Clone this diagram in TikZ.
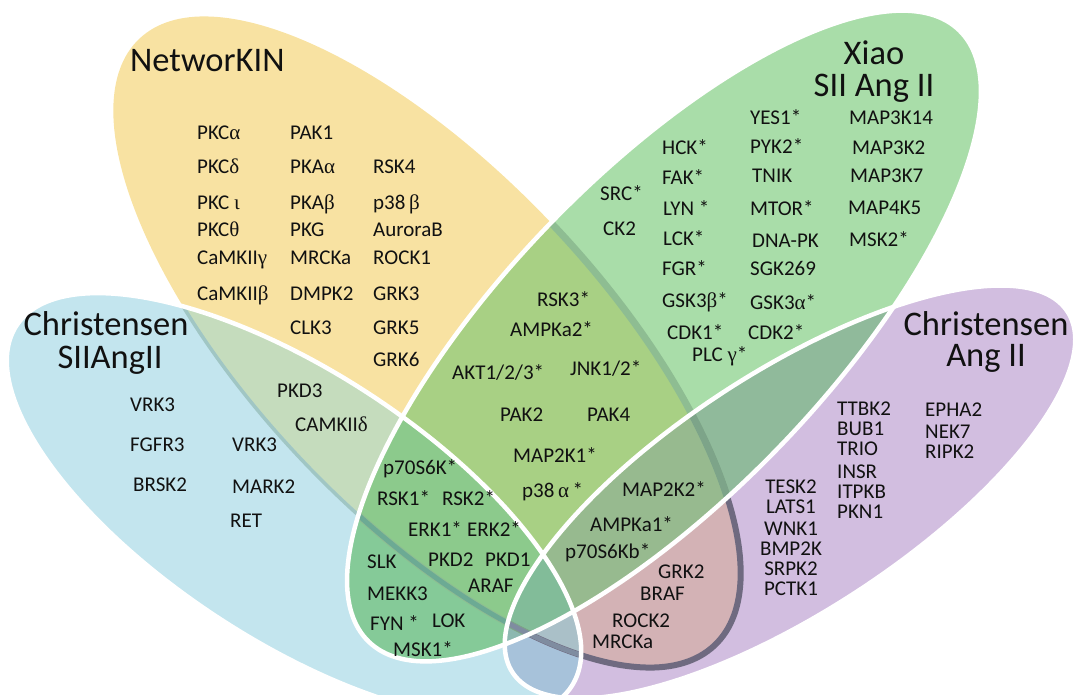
\documentclass[tikz,border=0pt]{standalone}
\usepackage{fontspec}
\setmainfont{Carlito}
\newfontfamily\grk{Liberation Serif}
\definecolor{cY}{HTML}{F8E2A2}
\definecolor{cG}{HTML}{A9DDA9}
\definecolor{cB}{HTML}{C3E5EE}
\definecolor{cP}{HTML}{D2BEE0}
\definecolor{cYG}{HTML}{A8D084}
\definecolor{cYB}{HTML}{C5DCBD}
\definecolor{cYP}{HTML}{D3B2B5}
\definecolor{cGB}{HTML}{85CA98}
\definecolor{cGP}{HTML}{90BA9B}
\definecolor{cBP}{HTML}{A7C2DA}
\definecolor{cYGB}{HTML}{8CCA8C}
\definecolor{cYGP}{HTML}{97BA8F}
\definecolor{cYBP}{HTML}{AAC0C8}
\definecolor{cGBP}{HTML}{8CB8B0}
\definecolor{cYGBP}{HTML}{82BC99}
\definecolor{eB}{HTML}{A0C6C4}
\definecolor{eG}{HTML}{8EBD92}
\definecolor{eGB}{HTML}{6CAA94}
\definecolor{eP}{HTML}{6F6A80}
\definecolor{eGP}{HTML}{7DA489}
\definecolor{eBP}{HTML}{7F8CA0}
\definecolor{txt}{HTML}{111111}
\def\Yp{(427,-342) ellipse [x radius=418, y radius=172]}
\def\Gp{(664,-336) ellipse [x radius=425, y radius=160]}
\def\Bp{(294,-506) ellipse [x radius=331, y radius=135]}
\def\Pp{(790,-492) ellipse [x radius=331, y radius=120]}
\begin{document}
\begin{tikzpicture}[x=1pt,y=1pt,
  shY/.style={rotate around={-46.5:(427,-342)}},
  shG/.style={rotate around={46:(664,-336)}},
  shB/.style={rotate around={-33:(294,-506)}},
  shP/.style={rotate around={33:(790,-492)}},
  wline/.style={draw=white, line width=4.5pt},
  lab/.style={anchor=base west, inner sep=0pt, text=txt, text height=14pt, text depth=3pt, font=\fontsize{21}{24}\selectfont},
  labcol/.style={anchor=base west, inner sep=0pt, text=txt, font=\fontsize{21}{20}\selectfont},
  ttl/.style={anchor=base, inner sep=0pt, text=txt, text height=22pt, text depth=3pt, font=\fontsize{34.5}{40}\selectfont},
  ttlcol/.style={anchor=base, inner sep=0pt, text=txt}]
\useasboundingbox (0,0) rectangle (1074,-695);
\clip (0,0) rectangle (1074,-695);
% single sets
\fill[shY, fill=cY] \Yp;
\fill[shG, fill=cG] \Gp;
\fill[shB, fill=cB] \Bp;
\fill[shP, fill=cP] \Pp;
% pairs
\begin{scope}\clip[shY] \Yp; \fill[shG, fill=cYG] \Gp; \fill[shB, fill=cYB] \Bp; \fill[shP, fill=cYP] \Pp;\end{scope}
\begin{scope}\clip[shG] \Gp; \fill[shB, fill=cGB] \Bp; \fill[shP, fill=cGP] \Pp;\end{scope}
\begin{scope}\clip[shB] \Bp; \fill[shP, fill=cBP] \Pp;\end{scope}
% triples
\begin{scope}\clip[shY] \Yp; \clip[shG] \Gp; \fill[shB, fill=cYGB] \Bp; \fill[shP, fill=cYGP] \Pp;\end{scope}
\begin{scope}\clip[shY] \Yp; \clip[shB] \Bp; \fill[shP, fill=cYBP] \Pp;\end{scope}
\begin{scope}\clip[shG] \Gp; \clip[shB] \Bp; \fill[shP, fill=cGBP] \Pp;\end{scope}
% all four
\begin{scope}\clip[shY] \Yp; \clip[shG] \Gp; \clip[shB] \Bp; \fill[shP, fill=cYGBP] \Pp;\end{scope}
% edge of the NetworKIN set seen through the others
\begin{scope}\clip[shB] \Bp; \draw[shY, draw=eB, line width=3.5pt] \Yp;\end{scope}
\begin{scope}\clip[shG] \Gp; \draw[shY, draw=eG, line width=7pt] \Yp;\end{scope}
\begin{scope}\clip[shG] \Gp; \clip[shB] \Bp; \draw[shY, draw=eGB, line width=5pt] \Yp;\end{scope}
\begin{scope}\clip[shP] \Pp; \draw[shY, draw=eP, line width=6pt] \Yp;\end{scope}
\begin{scope}\clip[shP] \Pp; \clip[shG] \Gp; \draw[shY, draw=eGP, line width=7pt] \Yp;\end{scope}
\begin{scope}\clip[shP] \Pp; \clip[shB] \Bp; \draw[shY, draw=eBP, line width=5pt] \Yp;\end{scope}
% white outlines
\draw[shB, wline] \Bp;
\draw[shG, wline] \Gp;
\draw[shP, wline] \Pp;
% titles
\node[ttl, anchor=base west] (tN) at (130,-72) {NetworKIN};
\node[ttlcol, font=\fontsize{34.5}{29}\selectfont] (tX) at (874,-65)
  {\begin{tabular}[t]{@{}c@{}}Xiao\\SII Ang II\end{tabular}};
\node[ttl] (tB1) at (106,-335) {Christensen};
\node[ttl] (tB2) at (110,-368) {SIIAngII};
\node[ttlcol, font=\fontsize{34.5}{31}\selectfont] (tP) at (986,-335)
  {\begin{tabular}[t]{@{}c@{}}Christensen\\Ang II\end{tabular}};
% NetworKIN only
\node[lab] (n1) at (197,-140) {PKC{\grk α}};
\node[lab] (n2) at (197,-174) {PKC{\grk δ}};
\node[lab] (n3) at (197,-210) {PKC {\grk ι}};
\node[lab] (n4) at (197,-237) {PKC{\grk θ}};
\node[lab] (n5) at (197,-265) {CaMKII{\grk γ}};
\node[lab] (n6) at (197,-301) {CaMKII{\grk β}};
\node[lab] (n7) at (290,-140) {PAK1};
\node[lab] (n8) at (290,-174) {PKA{\grk α}};
\node[lab] (n9) at (290,-210) {PKA{\grk β}};
\node[lab] (n10) at (290,-237) {PKG};
\node[lab] (n11) at (290,-265) {MRCKa};
\node[lab] (n12) at (290,-301) {DMPK2};
\node[lab] (n13) at (290,-334) {CLK3};
\node[lab] (n14) at (373,-174) {RSK4};
\node[lab] (n15) at (373,-210) {p38\,{\grk β}};
\node[lab] (n16) at (373,-237) {AuroraB};
\node[lab] (n17) at (373,-265) {ROCK1};
\node[lab] (n18) at (373,-301) {GRK3};
\node[lab] (n19) at (373,-334) {GRK5};
\node[lab] (n20) at (373,-366) {GRK6};
% Xiao only
\node[lab] (x1) at (600,-201) {SRC*};
\node[lab] (x2) at (603,-236) {CK2};
\node[lab] (x3) at (662,-155) {HCK*};
\node[lab] (x4) at (662,-185) {FAK*};
\node[lab] (x5) at (663,-216) {LYN *};
\node[lab] (x6) at (663,-246) {LCK*};
\node[lab] (x7) at (662,-276) {FGR*};
\node[lab] (x8) at (662,-307) {GSK3{\grk β}*};
\node[lab] (x9) at (667,-339) {CDK1*};
\node[lab] (x10) at (692,-361) {PLC {\grk γ}*};
\node[lab] (x11) at (750,-125) {YES1*};
\node[lab] (x12) at (750,-154) {PYK2*};
\node[lab] (x13) at (752,-183) {TNIK};
\node[lab] (x14) at (750,-216) {MTOR*};
\node[lab] (x15) at (752,-248) {DNA-PK};
\node[lab] (x16) at (750,-276) {SGK269};
\node[lab] (x17) at (750,-309) {GSK3{\grk α}*};
\node[lab] (x18) at (748,-339) {CDK2*};
\node[lab] (x19) at (849,-125) {MAP3K14};
\node[lab] (x20) at (852,-155) {MAP3K2};
\node[lab] (x21) at (850,-183) {MAP3K7};
\node[lab] (x22) at (848,-215) {MAP4K5};
\node[lab] (x23) at (849,-247) {MSK2*};
% Christensen SII Ang II only and with NetworKIN
\node[lab] (b1) at (130,-411) {VRK3};
\node[lab] (b2) at (130,-451) {FGFR3};
\node[lab] (b3) at (133,-491) {BRSK2};
\node[lab] (b4) at (232,-451) {VRK3};
\node[lab] (b5) at (232,-493) {MARK2};
\node[lab] (b6) at (230,-527) {RET};
\node[lab] (b7) at (277,-397) {PKD3};
\node[lab] (b8) at (295,-431) {CAMKII{\grk δ}};
% NetworKIN and Xiao
\node[lab] (g1) at (537,-306) {RSK3*};
\node[lab] (g2) at (510,-336) {AMPKa2*};
\node[lab] (g3) at (452,-379) {AKT1/2/3*};
\node[lab] (g4) at (570,-375) {JNK1/2*};
\node[lab] (g5) at (500,-421) {PAK2};
\node[lab] (g6) at (587,-421) {PAK4};
\node[lab] (g7) at (513,-462) {MAP2K1*};
\node[lab] (g8) at (522,-497) {p38\,{\grk α}\,*};
% with Christensen SII Ang II
\node[lab] (c1) at (383,-474) {p70S6K*};
\node[lab] (c2) at (377,-505) {RSK1*};
\node[lab] (c3) at (442,-505) {RSK2*};
\node[lab] (c4) at (408,-536) {ERK1*};
\node[lab] (c5) at (467,-536) {ERK2*};
\node[lab] (c6) at (367,-568) {SLK};
\node[lab] (c7) at (428,-566) {PKD2};
\node[lab] (c8) at (485,-566) {PKD1};
\node[lab] (c9) at (367,-600) {MEKK3};
\node[lab] (c10) at (468,-592) {ARAF};
\node[lab] (c11) at (370,-630) {FYN *};
\node[lab] (c12) at (432,-627) {LOK};
\node[lab] (c13) at (393,-656) {MSK1*};
% with Christensen Ang II
\node[lab] (m1) at (622,-496) {MAP2K2*};
\node[lab] (m2) at (590,-531) {AMPKa1*};
\node[lab] (m3) at (565,-558) {p70S6Kb*};
\node[lab] (m4) at (658,-578) {GRK2};
\node[lab] (m5) at (640,-600) {BRAF};
\node[lab] (m6) at (612,-627) {ROCK2};
\node[lab] (m7) at (592,-648) {MRCKa};
% Christensen Ang II only
\node[labcol] (p1) at (837,-415)
  {\begin{tabular}[t]{@{}l@{}}TTBK2\\BUB1\\TRIO\\[3pt]INSR\\ITPKB\\PKN1\end{tabular}};
\node[labcol] (p2) at (925,-416)
  {\begin{tabular}[t]{@{}l@{}}EPHA2\\[2pt]NEK7\\RIPK2\end{tabular}};
\node[labcol, anchor=base] (p3) at (791,-493)
  {\begin{tabular}[t]{@{}c@{}}TESK2\\LATS1\\[2pt]WNK1\\BMP2K\\SRPK2\\PCTK1\end{tabular}};
\end{tikzpicture}
\end{document}
